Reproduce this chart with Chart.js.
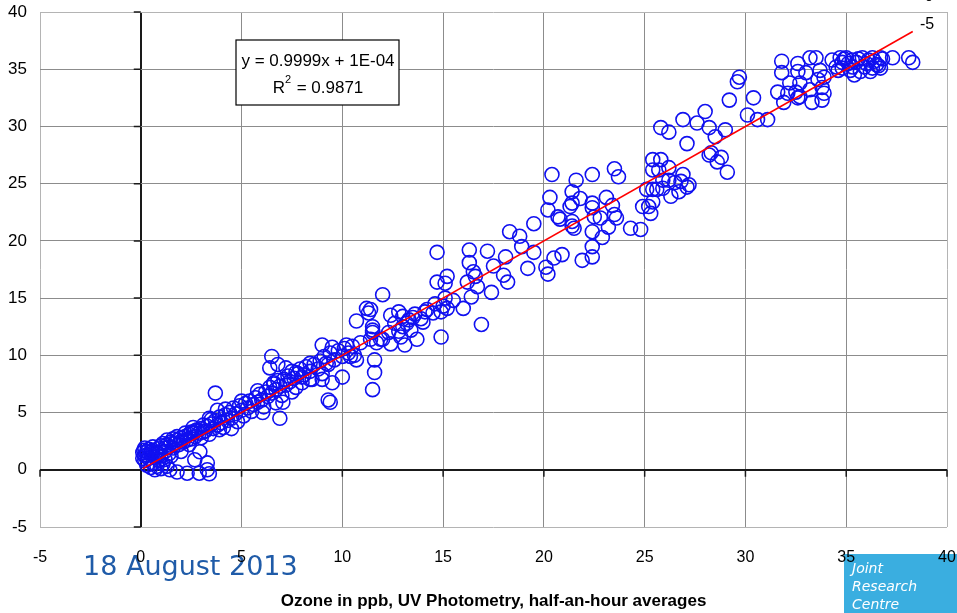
<!DOCTYPE html>
<html>
<head>
<meta charset="utf-8">
<script src="https://cdn.jsdelivr.net/npm/chart.js@4/dist/chart.umd.min.js"></script>
<style>
  html, body { margin: 0; padding: 0; background: #fff; }
  #wrap { width: 957px; height: 613px; }
</style>
</head>
<body>
<div id="wrap"><canvas id="chartId" width="957" height="613"></canvas></div>
<script>
// Ozone, UV photometry (x) vs analyser (y), half-hour averages
var uvPpb = [
	// near the origin
	0.1,0.2,0.3,0.2,0.4,0.5,0.3,0.6,0.7,0.5,0.8,0.9,0.4,0.6,0.8,1.0,1.1,0.7,1.0,1.2,0.2,0.1,0.9,1.2,1.3,0.6,1.0,1.4,0.3,0.15,
	// low readings
	1.44,1.8,2.3,2.9,3.4,3.3,3.3,2.68,2.93,2.0,1.5,3.9,4.5,
	// dense band 1-10
	1.3,1.5,1.6,1.8,1.9,2.0,2.1,2.2,2.3,2.4,
	2.5,2.6,2.7,2.8,2.9,3.0,3.0,3.1,3.2,3.3,
	3.4,3.5,3.6,3.7,3.8,3.9,4.0,4.1,4.2,4.3,
	4.4,4.5,4.6,4.7,4.8,4.9,5.0,5.1,5.2,5.3,
	5.4,5.5,5.6,5.7,5.8,5.9,6.0,6.1,6.2,6.3,
	6.4,6.5,6.6,6.7,6.8,6.9,7.0,7.1,7.2,7.3,
	7.4,7.5,7.6,7.7,7.8,7.9,8.0,8.1,8.2,8.4,
	8.5,8.6,8.8,8.9,9.0,9.1,9.3,9.4,9.6,9.8,
	10.0,10.1,10.3,10.5,10.6,
	1.1,1.2,1.4,1.7,2.0,2.2,2.5,2.7,3.1,3.5,1.6,2.4,
	0.5,0.9,1.3,1.8,2.6,3.4,4.2,5.0,5.8,6.6,
	// 4-12
	3.7,3.8,6.5,6.8,6.4,7.2,6.05,6.9,7.05,6.7,7.5,7.7,8.4,8.0,8.4,9.0,9.5,9.2,9.0,9.5,9.3,9.4,10.0,10.2,10.4,10.7,11.6,11.6,11.5,10.9,11.4,11.7,12.0,11.5,10.7,11.2,11.3,
	// 12-16
	12.0,12.3,12.6,13.0,13.3,13.6,13.9,12.4,12.9,13.4,14.2,14.6,15.0,11.4,11.5,11.5,11.9,12.4,12.8,13.0,13.5,13.2,12.8,13.7,13.1,14.9,14.1,14.5,14.9,15.2,16.0,15.1,15.5,16.4,14.0,16.9,
	// 16-20
	14.7,16.3,17.2,18.1,19.2,19.5,20.1,20.2,20.5,20.9,21.9,22.4,16.3,16.5,16.2,15.2,14.7,15.1,16.7,17.4,18.0,18.2,18.3,18.8,18.9,17.5,16.6,
	// 20-24
	20.4,22.4,23.5,23.7,21.6,21.4,20.3,21.8,21.4,21.3,22.4,23.1,23.4,20.2,20.7,20.8,19.5,21.4,21.4,21.5,22.4,22.5,22.8,23.5,23.6,23.2,22.4,22.9,22.4,24.3,24.8,
	// 24-29
	25.4,25.8,25.4,25.7,26.2,26.9,25.9,26.2,26.5,26.8,27.2,27.1,25.1,25.4,25.6,25.9,26.7,26.3,25.4,25.2,24.9,25.3,25.8,26.2,26.9,27.6,28.2,28.5,29.0,27.1,28.2,28.6,28.8,29.1,28.3,
	// 28-34
	28.0,29.7,29.6,29.2,30.4,30.1,30.6,31.1,31.8,31.8,32.6,32.6,33.0,33.2,33.5,33.7,33.9,33.6,32.7,32.2,31.6,32.1,32.5,32.7,33.2,33.8,33.9,33.8,33.3,32.6,31.9,
	// 34-38
	34.7,35.0,35.3,34.5,34.8,35.2,35.5,35.8,36.1,36.3,36.7,37.3,38.1,38.3,35.4,35.9,36.3,36.5,36.2,36.7,34.8,34.3,34.9,35.1,35.6,36.0,36.4,36.8,35.3,36.6,34.6,35.7
];
var analyserPpb = [
	1.5,1.2,1.6,0.8,1.0,1.4,0.4,0.6,1.1,0.2,0.3,0.8,1.8,1.7,1.5,1.2,0.5,0.0,0.1,0.9,1.9,1.0,1.9,1.6,0.3,2.0,2.1,1.4,1.3,1.7,
	0.0,-0.2,-0.3,-0.3,-0.35,0.0,0.6,0.87,1.57,1.6,1.2,3.5,3.6,
	2.2,2.4,1.9,2.6,2.2,2.8,2.4,2.9,2.6,3.1,
	2.7,3.2,2.9,3.5,3.2,3.6,2.8,3.9,3.4,3.8,
	3.1,4.0,3.6,4.3,3.9,4.6,4.1,3.7,4.8,4.3,
	5.0,4.5,5.4,4.9,4.2,5.6,5.2,4.7,5.8,5.4,
	6.0,5.1,5.7,6.3,5.9,6.6,6.1,5.5,6.8,6.4,
	7.2,6.7,7.5,7.0,7.8,7.3,6.5,7.9,7.4,8.2,
	7.7,8.6,8.0,7.2,8.4,8.8,7.6,8.3,9.0,8.6,
	7.9,9.2,8.8,9.5,8.4,9.9,9.2,10.2,9.6,10.4,
	9.9,10.6,10.2,10.8,10.0,
	2.3,1.9,2.0,2.3,2.5,3.2,3.3,3.4,3.3,4.4,2.7,2.2,
	1.6,1.4,2.6,2.9,3.7,4.5,5.3,6.0,6.9,7.6,
	6.7,5.2,9.9,9.2,8.9,8.9,5.0,4.5,5.9,5.85,6.8,8.5,9.3,8.1,7.9,10.9,10.7,9.3,7.9,7.6,6.1,5.9,8.1,10.9,9.9,9.6,9.6,8.5,7.0,11.1,11.4,11.1,11.4,12.2,13.0,14.1,13.7,
	15.3,12.0,12.8,12.5,13.1,13.6,13.2,11.0,11.6,12.2,14.0,14.5,14.3,14.0,12.5,12.0,11.4,13.5,13.8,13.4,13.3,12.8,12.1,11.4,10.9,11.6,13.8,13.7,13.8,14.1,14.1,15.0,14.8,15.1,12.9,12.7,
	19.0,19.2,19.1,18.6,17.6,19.0,17.7,17.1,18.5,18.8,18.3,18.6,18.1,17.3,16.4,16.9,16.4,16.3,16.0,15.5,17.0,16.4,20.8,20.4,19.5,17.8,16.9,
	25.8,25.8,26.3,25.6,25.3,24.3,23.8,23.7,23.3,23.0,23.3,23.8,23.1,22.7,22.1,21.9,21.5,21.7,21.3,21.1,22.9,22.1,22.0,22.3,22.0,21.2,20.8,20.3,19.5,21.1,21.0,
	27.1,27.1,26.2,26.2,26.4,25.8,25.3,25.3,25.1,25.2,24.9,24.7,24.5,24.5,24.5,24.6,24.3,23.9,23.4,23.0,23.0,22.4,29.9,29.5,30.6,30.3,29.9,29.1,29.7,28.5,27.5,26.9,27.3,26.0,27.7,
	31.3,34.3,33.9,32.3,32.5,31.0,30.6,30.6,35.7,34.7,35.5,34.8,34.7,36.0,36.0,34.9,34.3,34.1,33.8,33.8,33.0,32.9,33.0,32.6,33.2,33.4,32.9,32.3,32.1,32.5,32.1,
	36.0,36.0,35.8,35.2,35.1,34.9,35.6,36.0,35.8,36.0,36.0,36.0,36.0,35.6,34.5,35.2,35.1,35.4,34.8,35.1,35.6,35.8,35.9,35.5,35.9,35.5,35.7,35.9,35.2,35.3,34.9,34.8
];

// linear fit shown in the box
var fitSlope = 0.9999;
var fitIntercept = 0.0001;
var fitFrom = 0.1;
var fitTo = 38.3;
var fitLabel = 'y = 0.9999x + 1E-04';
var r2Label = '0.9871';

var axisMin = -5;
var axisMax = 40;
var axisStep = 5;
var xTitle = 'Ozone in ppb, UV Photometry, half-an-hour averages';
var dateText = '18 August 2013';
var logoLines = ['Joint', 'Research', 'Centre'];

var points = uvPpb.map(function (x, i) { return { x: x, y: analyserPpb[i] }; });
var fitLine = [fitFrom, fitTo].map(function (x) { return { x: x, y: fitSlope * x + fitIntercept }; });

function gridColour(ctx) {
	var v = ctx.tick.value;
	if (v === 0) return '#1a1a1a';
	if (v === axisMin || v === axisMax) return '#b4b4b4';
	return '#8c8c8c';
}
function gridWidth(ctx) {
	return ctx.tick.value === 0 ? 2 : 1;
}
// keep the plot box fixed, labels may hang over the edges
function noOverhang(s) {
	s.paddingLeft = 0; s.paddingRight = 0; s.paddingTop = 0; s.paddingBottom = 0;
}

var decorations = {
	id: 'decorations',
	beforeDraw: function (chart) {
		var c = chart.ctx;
		c.save();
		c.fillStyle = '#fff';
		c.fillRect(0, 0, chart.width, chart.height);
		// date
		c.fillStyle = '#1f5ba8';
		c.font = '27px "DejaVu Sans"';
		c.textBaseline = 'alphabetic';
		c.textAlign = 'left';
		c.fillText(dateText, 83, 575);
		// JRC logo
		c.fillStyle = '#3aaee0';
		c.fillRect(844, 554, 113, 59);
		c.fillStyle = '#fff';
		c.font = 'italic 14px "DejaVu Sans"';
		c.textBaseline = 'middle';
		logoLines.forEach(function (t, i) { c.fillText(t, 852, 569 + i * 18); });
		c.restore();
	},
	beforeDatasetsDraw: function (chart) {
		var c = chart.ctx, xs = chart.scales.x, ys = chart.scales.y;
		var x0 = xs.getPixelForValue(0), y0 = ys.getPixelForValue(0);
		c.save();
		c.strokeStyle = '#1a1a1a';
		c.lineWidth = 1.5;
		c.beginPath();
		for (var v = axisMin; v <= axisMax; v += axisStep) {
			var px = xs.getPixelForValue(v);
			c.moveTo(px, y0); c.lineTo(px, y0 + 7);
			var py = ys.getPixelForValue(v);
			c.moveTo(x0, py); c.lineTo(x0 - 7, py);
		}
		c.stroke();
		c.restore();
	},
	afterDraw: function (chart) {
		var c = chart.ctx;
		c.save();
		// equation box
		c.fillStyle = '#fff';
		c.fillRect(236, 40, 163, 65);
		c.strokeStyle = '#000';
		c.lineWidth = 1.2;
		c.strokeRect(236, 40, 163, 65);
		c.fillStyle = '#000';
		c.font = '17px "Liberation Sans", Arial';
		c.textAlign = 'center';
		c.textBaseline = 'middle';
		c.fillText(fitLabel, 318, 61);
		c.textAlign = 'left';
		var rest = ' = ' + r2Label;
		var wR = c.measureText('R').width;
		var wRest = c.measureText(rest).width;
		var startX = 318 - (wR + 7 + wRest) / 2;
		c.fillText('R', startX, 88);
		c.font = '11px "Liberation Sans", Arial';
		c.fillText('2', startX + wR, 80);
		c.font = '17px "Liberation Sans", Arial';
		c.fillText(rest, startX + wR + 7, 88);
		// stray labels top-right
		c.font = '16px "Liberation Sans", Arial';
		c.textAlign = 'center';
		c.fillText('-5', 927, 25);
		c.textBaseline = 'bottom';
		c.fillText('0', 929, 5);
		c.restore();
	}
};

var chrt = document.getElementById('chartId').getContext('2d');
var chartId = new Chart(chrt, {
	type: 'scatter',
	data: {
		datasets: [{
			type: 'line',
			data: fitLine,
			borderColor: '#ff0000',
			borderWidth: 1.6,
			pointRadius: 0,
			fill: false,
			order: 0
		}, {
			type: 'scatter',
			data: points,
			borderColor: '#1010f0',
			backgroundColor: 'rgba(0,0,0,0)',
			borderWidth: 1.6,
			pointRadius: 7,
			pointStyle: 'circle',
			order: 1
		}]
	},
	options: {
		responsive: false,
		animation: false,
		events: [],
		layout: { padding: { left: 0, right: 10, top: 12, bottom: 0 } },
		plugins: {
			legend: { display: false },
			tooltip: { enabled: false }
		},
		scales: {
			x: {
				type: 'linear',
				min: axisMin, max: axisMax,
				afterFit: function (s) { s.height = 86; noOverhang(s); },
				ticks: {
					stepSize: axisStep,
					padding: 21,
					color: '#000',
					font: { family: '"Liberation Sans", Arial', size: 16 }
				},
				grid: { color: gridColour, lineWidth: gridWidth, drawTicks: false },
				border: { display: false },
				title: {
					display: true,
					text: xTitle,
					color: '#000',
					font: { family: '"Liberation Sans", Arial', size: 17, weight: 'bold' },
					padding: { top: 0, bottom: 1 }
				}
			},
			y: {
				type: 'linear',
				min: axisMin, max: axisMax,
				afterFit: function (s) { s.width = 40; noOverhang(s); },
				ticks: {
					stepSize: axisStep,
					padding: 13,
					color: '#000',
					font: { family: '"Liberation Sans", Arial', size: 17 }
				},
				grid: { color: gridColour, lineWidth: gridWidth, drawTicks: false },
				border: { display: false }
			}
		}
	},
	plugins: [decorations]
});
</script>
</body>
</html>
